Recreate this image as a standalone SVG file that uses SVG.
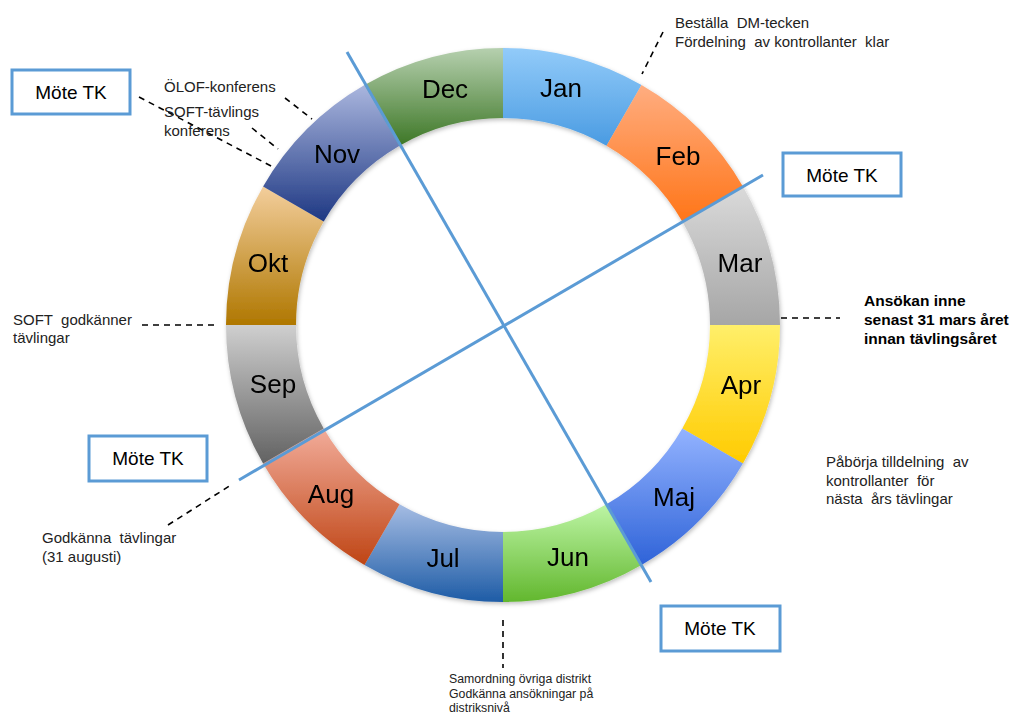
<svg xmlns="http://www.w3.org/2000/svg" width="1017" height="715" viewBox="0 0 1017 715">
<style>
.m{font-family:"Liberation Sans",Arial,sans-serif;font-size:26px;fill:#000;text-anchor:middle}
.t{font-family:"Liberation Sans",Arial,sans-serif;font-size:15px;fill:#222;white-space:pre}
.s{font-family:"Liberation Sans",Arial,sans-serif;font-size:12.3px;fill:#222}
.b{font-family:"Liberation Sans",Arial,sans-serif;font-size:15.5px;font-weight:bold;fill:#000}
.box{fill:#fff;stroke:#5B9BD5;stroke-width:3}
.bt{font-family:"Liberation Sans",Arial,sans-serif;font-size:19px;fill:#000;text-anchor:middle}
.d{stroke:#000;stroke-width:1.6;stroke-dasharray:6,5;fill:none}
.ax{stroke:#5B9BD5;stroke-width:3;fill:none}
</style>
<defs>
<linearGradient id="gJan" x1="0" y1="0" x2="0" y2="1"><stop offset="0" stop-color="#92CBF9"/><stop offset="1" stop-color="#4A9BE2"/></linearGradient>
<linearGradient id="gFeb" x1="0" y1="0" x2="0" y2="1"><stop offset="0" stop-color="#FFAD80"/><stop offset="1" stop-color="#FF7518"/></linearGradient>
<linearGradient id="gMar" x1="0" y1="0" x2="0" y2="1"><stop offset="0" stop-color="#DADADA"/><stop offset="1" stop-color="#A6A6A6"/></linearGradient>
<linearGradient id="gApr" x1="0" y1="0" x2="0" y2="1"><stop offset="0" stop-color="#FFEF6A"/><stop offset="1" stop-color="#FFCB00"/></linearGradient>
<linearGradient id="gMaj" x1="0" y1="0" x2="0" y2="1"><stop offset="0" stop-color="#93B3FF"/><stop offset="1" stop-color="#2F63D8"/></linearGradient>
<linearGradient id="gJun" x1="0" y1="0" x2="0" y2="1"><stop offset="0" stop-color="#BDF5A5"/><stop offset="1" stop-color="#62B72E"/></linearGradient>
<linearGradient id="gJul" x1="0" y1="0" x2="0" y2="1"><stop offset="0" stop-color="#A5BCE3"/><stop offset="1" stop-color="#1E5CA6"/></linearGradient>
<linearGradient id="gAug" x1="0" y1="0" x2="0" y2="1"><stop offset="0" stop-color="#F2AC9A"/><stop offset="1" stop-color="#BF4515"/></linearGradient>
<linearGradient id="gSep" x1="0" y1="0" x2="0" y2="1"><stop offset="0" stop-color="#CFCFCF"/><stop offset="1" stop-color="#626262"/></linearGradient>
<linearGradient id="gOkt" x1="0" y1="0" x2="0" y2="1"><stop offset="0" stop-color="#F3CE9C"/><stop offset="1" stop-color="#AF7700"/></linearGradient>
<linearGradient id="gNov" x1="0" y1="0" x2="0" y2="1"><stop offset="0" stop-color="#AAB6DE"/><stop offset="1" stop-color="#1E3883"/></linearGradient>
<linearGradient id="gDec" x1="0" y1="0" x2="0" y2="1"><stop offset="0" stop-color="#B6D0AF"/><stop offset="1" stop-color="#3D7726"/></linearGradient>
<filter id="sh" x="-10%" y="-10%" width="120%" height="120%"><feDropShadow dx="1" dy="2" stdDeviation="2" flood-color="#000" flood-opacity="0.25"/></filter>
</defs>
<rect width="1017" height="715" fill="#fff"/>
<g id="ring" filter="url(#sh)">
<g id="jan"><path d="M503,48 A277,277 0 0 1 641.5,85.1 L606.5,145.7 A207,207 0 0 0 503,118 Z" fill="url(#gJan)"/><text class="m" x="561" y="97">Jan</text></g>
<g id="feb"><path d="M641.5,85.1 A277,277 0 0 1 742.9,186.5 L682.3,221.5 A207,207 0 0 0 606.5,145.7 Z" fill="url(#gFeb)"/><text class="m" x="678" y="165">Feb</text></g>
<g id="mar"><path d="M742.9,186.5 A277,277 0 0 1 780,325 L710,325 A207,207 0 0 0 682.3,221.5 Z" fill="url(#gMar)"/><text class="m" x="740" y="272">Mar</text></g>
<g id="apr"><path d="M780,325 A277,277 0 0 1 742.9,463.5 L682.3,428.5 A207,207 0 0 0 710,325 Z" fill="url(#gApr)"/><text class="m" x="741" y="394">Apr</text></g>
<g id="maj"><path d="M742.9,463.5 A277,277 0 0 1 641.5,564.9 L606.5,504.3 A207,207 0 0 0 682.3,428.5 Z" fill="url(#gMaj)"/><text class="m" x="674" y="506">Maj</text></g>
<g id="jun"><path d="M641.5,564.9 A277,277 0 0 1 503,602 L503,532 A207,207 0 0 0 606.5,504.3 Z" fill="url(#gJun)"/><text class="m" x="568" y="566">Jun</text></g>
<g id="jul"><path d="M503,602 A277,277 0 0 1 364.5,564.9 L399.5,504.3 A207,207 0 0 0 503,532 Z" fill="url(#gJul)"/><text class="m" x="443" y="567">Jul</text></g>
<g id="aug"><path d="M364.5,564.9 A277,277 0 0 1 263.1,463.5 L323.7,428.5 A207,207 0 0 0 399.5,504.3 Z" fill="url(#gAug)"/><text class="m" x="331" y="503">Aug</text></g>
<g id="sep"><path d="M263.1,463.5 A277,277 0 0 1 226,325 L296,325 A207,207 0 0 0 323.7,428.5 Z" fill="url(#gSep)"/><text class="m" x="273" y="393">Sep</text></g>
<g id="okt"><path d="M226,325 A277,277 0 0 1 263.1,186.5 L323.7,221.5 A207,207 0 0 0 296,325 Z" fill="url(#gOkt)"/><text class="m" x="268" y="272">Okt</text></g>
<g id="nov"><path d="M263.1,186.5 A277,277 0 0 1 364.5,85.1 L399.5,145.7 A207,207 0 0 0 323.7,221.5 Z" fill="url(#gNov)"/><text class="m" x="337" y="163">Nov</text></g>
<g id="dec"><path d="M364.5,85.1 A277,277 0 0 1 503,48 L503,118 A207,207 0 0 0 399.5,145.7 Z" fill="url(#gDec)"/><text class="m" x="445" y="98">Dec</text></g>
</g>
<g id="connectors">
<line class="ax" x1="347" y1="52" x2="651" y2="582"/>
<line class="ax" x1="763" y1="175" x2="239" y2="480"/>
<line class="d" x1="285" y1="98" x2="312" y2="119"/>
<line class="d" x1="252" y1="128" x2="278" y2="149"/>
<line class="d" x1="139" y1="97" x2="273" y2="167"/>
<line class="d" x1="663" y1="32" x2="642" y2="74"/>
<line class="d" x1="781" y1="318" x2="840" y2="318"/>
<line class="d" x1="142" y1="325" x2="216" y2="325"/>
<line class="d" x1="168" y1="525" x2="231" y2="485"/>
<line class="d" x1="503" y1="620" x2="503" y2="668"/>
</g>
<g id="mote1"><rect class="box" x="12" y="70" width="118" height="44"/><text class="bt" x="71" y="99">Möte TK</text></g>
<g id="mote2"><rect class="box" x="783" y="153" width="118" height="43"/><text class="bt" x="842" y="182">Möte TK</text></g>
<g id="mote3"><rect class="box" x="89" y="436" width="118" height="45"/><text class="bt" x="148" y="465">Möte TK</text></g>
<g id="mote4"><rect class="box" x="661" y="606" width="119" height="45"/><text class="bt" x="720" y="635">Möte TK</text></g>
<g id="notes">
<text class="t" x="164" y="92">ÖLOF-konferens</text>
<text class="t" x="164" y="117">SOFT-tävlings</text>
<text class="t" x="164" y="136">konferens</text>
<text class="t" x="675" y="28">Beställa  DM-tecken</text>
<text class="t" x="675" y="47">Fördelning  av kontrollanter  klar</text>
<text class="b" x="864" y="306">Ansökan inne</text>
<text class="b" x="864" y="325">senast 31 mars året</text>
<text class="b" x="864" y="344">innan tävlingsåret</text>
<text class="t" x="13" y="325">SOFT  godkänner</text>
<text class="t" x="13" y="343">tävlingar</text>
<text class="t" x="826" y="467">Påbörja tilldelning  av</text>
<text class="t" x="826" y="486">kontrollanter  för</text>
<text class="t" x="826" y="504">nästa  års tävlingar</text>
<text class="t" x="42" y="543">Godkänna  tävlingar</text>
<text class="t" x="42" y="562">(31 augusti)</text>
<text class="s" x="449" y="683">Samordning övriga distrikt</text>
<text class="s" x="449" y="698">Godkänna ansökningar på</text>
<text class="s" x="449" y="712">distriksnivå</text>
</g>
</svg>
